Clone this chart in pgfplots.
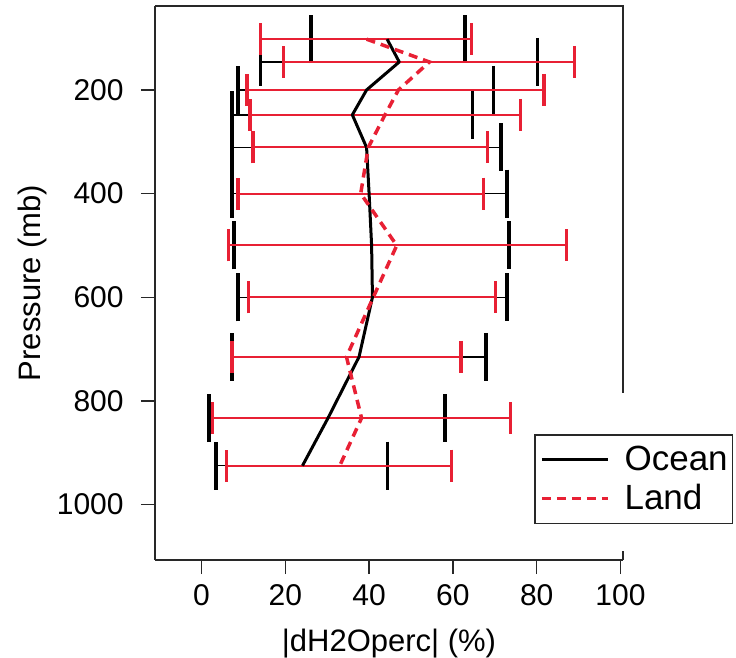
\documentclass[border=0pt]{standalone}
\usepackage{fontspec}
\setmainfont{Liberation Sans}
\usepackage{pgfplots}
\pgfplotsset{compat=1.18}
\usepackage{pgfplotstable}
\definecolor{landred}{RGB}{232,32,52}
\definecolor{framegray}{RGB}{40,40,40}

\pgfplotstableread{
p   mean lo   hi
102 44.3 26.1 62.8
146 47.2 14.1 80.2
200 39.4 8.7  69.7
248 36.0 7.3  64.7
311 39.4 7.3  71.5
400 40.0 7.3  72.9
500 40.6 7.7  73.3
600 40.8 8.7  72.9
715 37.6 7.3  67.9
833 30.2 1.8  58.1
925 24.1 3.5  44.4
}\ocean

\pgfplotstableread{
p   mean lo   hi
102 39.4 14.1 64.5
146 54.4 19.6 89.0
200 47.0 10.9 81.7
248 43.8 11.6 76.1
311 39.8 12.3 68.3
400 38.0 8.7  67.3
500 46.6 6.5  87.1
600 41.0 11.2 70.1
715 34.6 7.3  61.9
833 38.2 2.6  73.7
925 33.0 5.9  59.6
}\land

\begin{document}
\begin{tikzpicture}
\path (-77.5bp,-49bp) rectangle (290.5bp,280bp);
\begin{axis}[
  scale only axis, width=234bp, height=277bp,
  xmin=-11.1, xmax=100.6, ymin=38, ymax=1107, y dir=reverse,
  clip=false,
  axis x line*=bottom, axis y line*=left,
  axis line style={framegray, line width=0.75bp, -},
  xtick={0,20,...,100}, ytick={200,400,...,1000},
  tick align=outside, major tick length=7bp,
  tick style={framegray, line width=0.75bp},
  /pgf/number format/assume math mode=true,
  /pgf/number format/1000 sep={},
  ticklabel style={font=\fontsize{15bp}{18bp}\selectfont, inner sep=0pt},
  xticklabel style={anchor=north, yshift=-5bp},
  yticklabel style={anchor=east, xshift=-4bp},
  yticklabel shift=4.5bp,
  every axis x label/.style={at={(axis description cs:0.5,-0.1643)}, anchor=base, inner sep=0pt},
  every axis y label/.style={at={(axis description cs:-0.2628,0.5)}, anchor=center, rotate=90, inner sep=0pt},
  label style={font=\fontsize{15.5bp}{18bp}\selectfont},
  xlabel={|dH2Operc| (\%)},
  ylabel={Pressure (mb)},
  legend style={at={(rel axis cs:0.8105,0.2274)}, anchor=north west,
    draw=framegray, line width=0.75bp, fill=white,
    font=\fontsize{17.5bp}{20bp}\selectfont,
    inner xsep=2.5bp, inner ysep=5.5bp, row sep=5.5bp, column sep=7.5bp,
    nodes={inner sep=0pt}},
  legend cell align=left,
  legend image code/.code={\draw[#1] (0bp,0bp) -- (33bp,0bp);},
]
% ocean error bars
\addplot[draw=none, mark=none, forget plot,
  error bars/.cd, x dir=both, x explicit,
  error bar style={draw=black, line width=0.7bp},
  error mark options={draw=black, line width=1.9bp, mark size=12bp, rotate=90}]
  table[x=mean, y=p, x error plus expr=\thisrow{hi}-\thisrow{mean},
        x error minus expr=\thisrow{mean}-\thisrow{lo}] {\ocean};
% land error bars
\addplot[draw=none, mark=none, forget plot,
  error bars/.cd, x dir=both, x explicit,
  error bar style={draw=landred, line width=1bp},
  error mark options={draw=landred, line width=1.7bp, mark size=8bp, rotate=90}]
  table[x=mean, y=p, x error plus expr=\thisrow{hi}-\thisrow{mean},
        x error minus expr=\thisrow{mean}-\thisrow{lo}] {\land};
\addplot[black, mark=none, line width=1.5bp, line join=round] table[x=mean, y=p] {\ocean};
\addlegendentry{Ocean}
\addplot[landred, mark=none, line width=1.75bp, dash pattern=on 4.5bp off 3bp] table[x=mean, y=p] {\land};
\addlegendentry{Land}
\draw[framegray, line width=0.75bp] (rel axis cs:0,1) -- (rel axis cs:1,1) -- (rel axis cs:1,0.3014);
\draw[framegray, line width=0.75bp] (rel axis cs:1,0.016) -- (rel axis cs:1,0);
\end{axis}
\end{tikzpicture}
\end{document}
